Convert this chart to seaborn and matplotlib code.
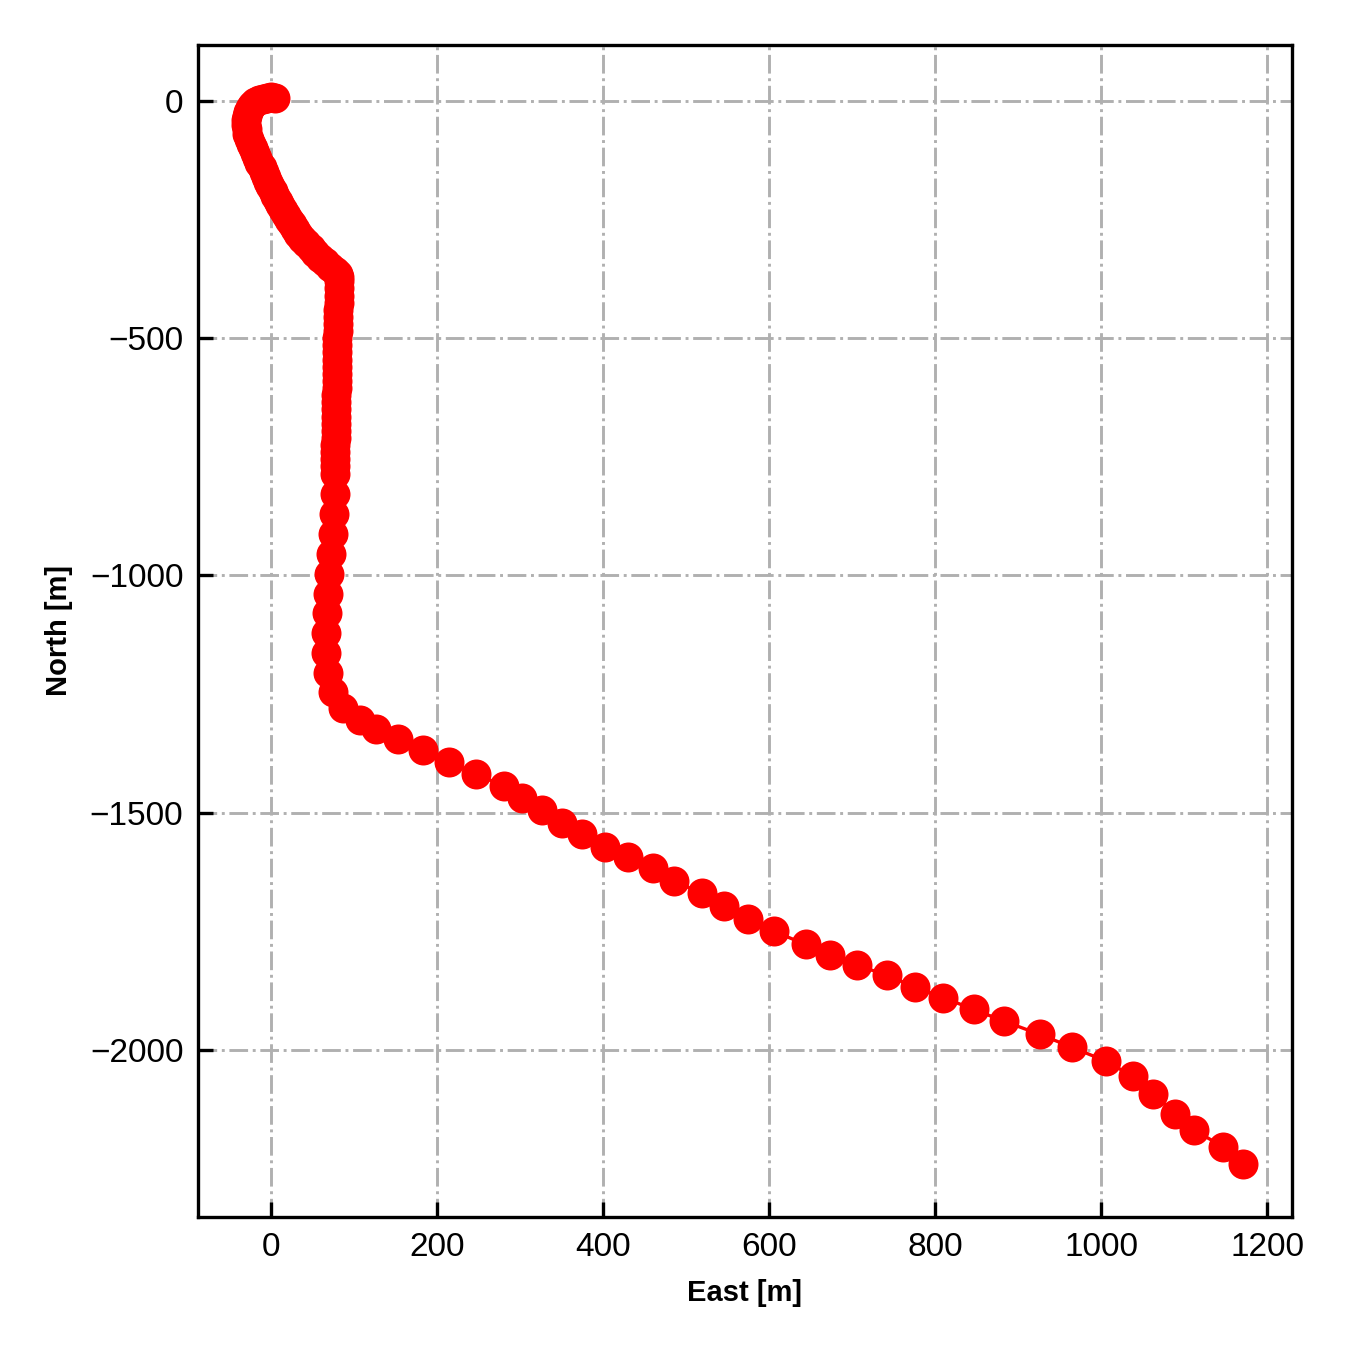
import matplotlib
matplotlib.use("Agg")
import matplotlib.pyplot as plt
import seaborn as sns

# well path in plan view (East / North, metres)
east = [5, 0, -5, -10, -15, -19, -23, -26, -28, -29, -30, -30, -29.5, -28.5, -26.5, -24,
        -21.5, -19, -16.5, -14, -11.5, -9, -6.5, -4, -1, 2, 5, 8, 11, 14.5,
        18, 21.5, 25, 29, 33, 37.5, 42, 47.5, 53, 59, 65, 71, 76.5, 81, 82,
        82, 82, 81.5, 81.5, 81, 81, 80.5, 80.5, 80, 80, 79.5, 79.5, 79.5, 79, 79, 79,
        78.5, 78.5, 78.5, 78, 78, 78, 78, 77.5, 77.5, 77.5, 77.5,
        77.5, 77, 76, 74, 72, 70, 68.5, 67.5, 66.5,
        66.4, 68.3, 74.4, 86.4, 106.6, 126.7, 152.8, 183.0, 214.4, 247.4, 280.4, 301.8,
        325.9, 350.0, 374.2, 402.3, 430.4, 459.9, 485.9, 519.0, 545.1, 574.5, 605.4,
        644.1, 673.0, 706.1, 741.5, 775.6, 809.4, 846.8, 883.0, 926.5, 964.8, 1005.8,
        1038.0, 1062.9, 1089.4, 1112.4, 1147.4, 1171.5]
north = [7, 8, 7, 5, 2, -2, -8, -15, -23, -31, -40, -50, -60, -70, -80, -90, -100,
         -110, -120, -130, -140, -150, -160, -170, -180, -190, -200, -210, -220, -230,
         -240, -250, -260, -270, -280, -290, -300, -310, -320, -330, -340, -350, -358,
         -365, -372,
         -380, -395, -410, -425, -440, -455, -470, -485, -500, -515, -530, -545, -560,
         -575, -590, -605, -620, -635, -650, -665, -680, -695, -710, -725, -740, -755,
         -770,
         -786, -828, -870, -912, -954, -996, -1038, -1080, -1122,
         -1164.2, -1206.4, -1245.1, -1280.1, -1304.8, -1324.4, -1345.5, -1368.0,
         -1393.3, -1418.6, -1443.9, -1469.9, -1494.5, -1522.6, -1545.1, -1571.9,
         -1594.2, -1617.4, -1644.2, -1670.1, -1696.9, -1724.3, -1749.6, -1777.6,
         -1800.2, -1821.3, -1842.3, -1867.0, -1889.4, -1914.6, -1939.3, -1967.3,
         -1994.1, -2023.6, -2055.2, -2091.7, -2135.3, -2169.1, -2204.3, -2239.3]

x_ticks = [0, 200, 400, 600, 800, 1000, 1200]
y_ticks = [0, -500, -1000, -1500, -2000]

sns.set_style("white")
plt.rcParams['font.family'] = ['Liberation Sans', 'DejaVu Sans']
plt.rcParams['text.color'] = 'black'
plt.rcParams['axes.labelcolor'] = 'black'

fig = plt.figure(figsize=(4.5, 4.5), dpi=300)
ax = fig.add_axes([0.1467, 0.0985, 0.8103, 0.8682])

sns.lineplot(x=east, y=north, sort=False, estimator=None, ax=ax,
             color="red", linewidth=0.8, marker="o", markersize=7.2,
             markeredgewidth=0, markerfacecolor="red")

ax.set_xticks(x_ticks)
ax.set_yticks(y_ticks)
ax.set_xlim(-88, 1230)
ax.set_ylim(-2352, 118)

ax.grid(True, linestyle="-.", color="#b0b0b0", linewidth=0.7)
ax.set_axisbelow(True)
for sp in ax.spines.values():
    sp.set_color("black")
    sp.set_linewidth(0.8)
ax.tick_params(direction="in", length=3.5, width=0.8, labelsize=8, colors="black",
               bottom=True, left=True)

ax.set_xlabel("East [m]", fontsize=7, fontweight="bold", labelpad=4)
ax.set_ylabel("North [m]", fontsize=7, fontweight="bold", labelpad=4)

fig.savefig("out.png", dpi=300)
